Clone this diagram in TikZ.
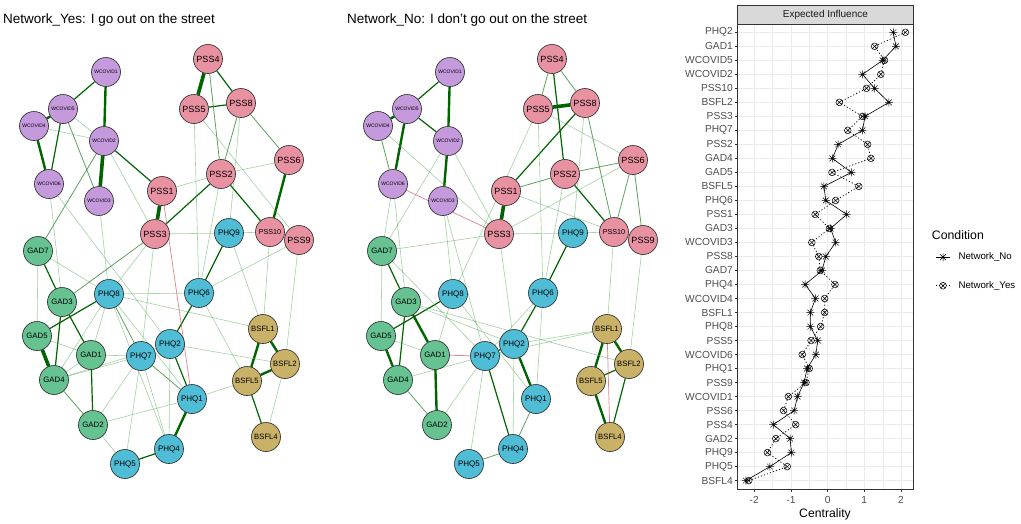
\documentclass[tikz,border=0pt]{standalone}
\usepackage{fontspec}
\setmainfont{Liberation Sans}
\usetikzlibrary{backgrounds}
\definecolor{wcC}{RGB}{196,154,221}
\definecolor{pssC}{RGB}{232,145,161}
\definecolor{phqC}{RGB}{79,189,214}
\definecolor{gadC}{RGB}{102,194,144}
\definecolor{bsfC}{RGB}{201,177,104}
\definecolor{dg}{RGB}{0,100,0}
\definecolor{mg}{RGB}{40,130,40}
\definecolor{lg}{RGB}{90,170,90}
\definecolor{rd}{RGB}{210,90,100}
\definecolor{gridc}{RGB}{235,235,235}
\definecolor{grey20}{RGB}{51,51,51}
\definecolor{grey30}{RGB}{77,77,77}
\definecolor{grey85}{RGB}{217,217,217}
\newcommand\netnodes[2]{%
 \foreach \n/\x/\y/\c/\f in {
  WCOVID1/106/72/wcC/5, WCOVID5/63/109/wcC/5, WCOVID4/34/126/wcC/5, WCOVID2/104/141/wcC/5,
  WCOVID6/49/184/wcC/5, WCOVID3/99/201/wcC/5,
  PSS4/208/59/pssC/9, PSS5/194/109/pssC/9, PSS8/241/103/pssC/9, PSS6/289/160/pssC/9,
  PSS2/221/174/pssC/9, PSS1/162/191/pssC/9, PSS3/155/234/pssC/9, PSS10/270/232/pssC/7.2,
  PSS9/299/240/pssC/9,
  PHQ9/229/233/phqC/8, PHQ8/109/294/phqC/8, PHQ6/199/293/phqC/8, PHQ7/141/356/phqC/8,
  PHQ2/170/344/phqC/8, PHQ1/192/399/phqC/8, PHQ4/169/449/phqC/8, PHQ5/125/464/phqC/8,
  GAD7/38/251/gadC/7.8, GAD3/62/302/gadC/7.8, GAD5/37/336/gadC/7.8, GAD1/91/355/gadC/7.8,
  GAD4/54/380/gadC/7.8, GAD2/93/425/gadC/7.8,
  BSFL1/263/329/bsfC/7.7, BSFL2/285/364/bsfC/7.7, BSFL5/247/381/bsfC/7.7, BSFL4/266/437/bsfC/7.7}{
   \node[nd, fill=\c, font=\fontsize{\f}{\f}\selectfont] (#1\n) at ({\x+#2},\y) {\n};
 }}
\newcommand\netedges[2]{%
 \foreach \s/\a/\b in {#2}{\draw[\s] (#1\a) -- (#1\b);}}
\begin{document}
\begin{tikzpicture}[x=1pt,y=-1pt,
  nd/.style={circle, draw=black!85, line width=0.6pt, minimum size=29pt, inner sep=0pt, text=black},
  eA/.style={dg, line width=3.6pt},
  eB/.style={dg, line width=2.4pt},
  eC/.style={dg, line width=1.2pt},
  eD/.style={mg, line width=0.8pt, opacity=0.75},
  eE/.style={lg, line width=0.6pt, opacity=0.55},
  eR/.style={rd, line width=0.7pt, opacity=0.75},
  gmaj/.style={gridc, line width=0.6pt},
  gmin/.style={gridc, line width=0.3pt},
  ylab/.style={anchor=east, inner sep=0pt, text=grey30, font=\fontsize{10.2}{12}\selectfont},
  noline/.style={black, line width=0.6pt},
  yesline/.style={black, line width=0.7pt, dash pattern=on 1.2pt off 2pt},
  mk/.style={black, line width=0.5pt}]
\useasboundingbox (0,0) rectangle (1021,523);
% titles
\node[anchor=base west, inner sep=0pt, font=\fontsize{13.5}{16}\selectfont] (t1) at (3,23) {Network\_Yes: I go out on the street};
\node[anchor=base west, inner sep=0pt, font=\fontsize{13.5}{16}\selectfont] (t2) at (347,23) {Network\_No: I don't go out on the street};
% networks
\netnodes{L}{0}
\netnodes{R}{344}
\begin{scope}[on background layer]
\netedges{L}{eA/PSS4/PSS5, eA/PSS1/PSS3, eA/WCOVID2/WCOVID3, eA/GAD5/GAD4,
 eB/WCOVID1/WCOVID2, eB/WCOVID5/WCOVID4, eB/WCOVID4/WCOVID6, eB/PSS6/PSS10, eB/PHQ1/PHQ4,
 eB/BSFL1/BSFL5, eB/BSFL1/BSFL2, eB/BSFL5/BSFL2,
 eC/WCOVID1/WCOVID5, eC/WCOVID5/WCOVID6, eC/PSS5/PSS8, eC/PSS4/PSS8, eC/WCOVID2/PSS1,
 eC/PSS2/PSS3, eC/PSS2/PSS10, eC/PHQ9/PHQ6, eC/GAD7/GAD3, eC/GAD3/GAD4, eC/GAD3/GAD1,
 eC/GAD5/PHQ8, eC/GAD1/GAD2, eC/PHQ6/PHQ2, eC/PHQ2/PHQ1, eC/PHQ4/PHQ5, eC/BSFL5/BSFL4,
 eD/PSS8/PSS6, eD/PSS8/PSS2, eD/WCOVID5/WCOVID3, eD/WCOVID2/GAD7, eD/PHQ7/PHQ1, eD/PSS4/PSS2,
 eD/PSS3/GAD3, eD/PHQ8/PHQ7, eD/GAD4/GAD2,
 eE/WCOVID4/WCOVID2, eE/WCOVID5/WCOVID2, eE/WCOVID2/PSS3, eE/WCOVID6/GAD3, eE/WCOVID6/PHQ2,
 eE/WCOVID3/PHQ8, eE/PSS8/PHQ9, eE/PSS5/PHQ6, eE/PSS5/PSS9, eE/PSS2/PSS6, eE/PSS2/PSS1,
 eE/PSS2/PHQ6, eE/PSS3/PHQ9, eE/PHQ9/PSS10, eE/PSS3/PHQ8, eE/PSS3/PHQ7, eE/GAD7/GAD5,
 eE/GAD7/PHQ8, eE/GAD5/GAD1, eE/GAD1/GAD4, eE/GAD1/PHQ7, eE/GAD1/PHQ8, eE/GAD4/PHQ7,
 eE/GAD4/PHQ2, eE/GAD4/PHQ8, eE/PHQ8/PHQ6, eE/PHQ8/PHQ1, eE/PHQ8/BSFL1, eE/PHQ8/PHQ4,
 eE/PHQ2/BSFL2, eE/PHQ2/PHQ4, eE/PHQ7/PHQ5, eE/PHQ7/PHQ4, eE/PHQ1/GAD2, eE/PHQ1/BSFL5,
 eE/PHQ5/GAD2, eE/BSFL2/BSFL4, eE/BSFL2/PSS9, eE/PHQ9/BSFL1, eE/PHQ6/BSFL5, eE/PSS10/BSFL1,
 eE/PSS9/PHQ6, eE/GAD2/PHQ7,
 eR/PSS1/PHQ1}
\netedges{R}{eA/PSS1/PSS3, eA/PSS5/PSS8,
 eB/WCOVID1/WCOVID2, eB/WCOVID2/WCOVID3, eB/WCOVID5/WCOVID4, eB/WCOVID5/WCOVID6, eB/GAD3/GAD1,
 eB/GAD5/GAD4, eB/GAD1/GAD2, eB/PHQ2/PHQ1, eB/BSFL1/BSFL5, eB/BSFL1/BSFL2, eB/BSFL5/BSFL4,
 eC/WCOVID1/WCOVID5, eC/WCOVID5/WCOVID2, eC/PSS4/PSS2, eC/PSS8/PSS1, eC/PSS2/PSS10, eC/PHQ9/PHQ6,
 eC/GAD7/GAD3, eC/GAD3/GAD4, eC/GAD5/PHQ8, eC/PHQ7/PHQ2, eC/PHQ2/PHQ6, eC/BSFL2/BSFL5,
 eC/BSFL2/BSFL4, eC/PHQ7/PHQ4,
 eD/PSS4/PSS5, eD/PSS4/PSS8, eD/PSS2/PSS1, eD/PSS6/PSS2, eD/PSS6/PSS10, eD/PSS6/PSS9,
 eD/WCOVID4/WCOVID6, eD/GAD4/GAD2, eD/PHQ1/PHQ4, eD/PHQ4/PHQ5, eD/PSS8/PSS10,
 eE/WCOVID4/PSS3, eE/WCOVID2/GAD7, eE/WCOVID2/PSS3, eE/WCOVID6/GAD7, eE/WCOVID6/GAD3,
 eE/WCOVID3/PHQ8, eE/WCOVID3/PHQ7, eE/PSS5/PSS6, eE/PSS5/PHQ8, eE/PSS5/PHQ6, eE/PSS8/PHQ9,
 eE/PSS6/PSS3, eE/PSS2/PHQ6, eE/PSS1/PSS10, eE/PSS3/PHQ9, eE/PSS3/GAD7, eE/PHQ9/PSS10,
 eE/GAD7/GAD5, eE/GAD7/PHQ7, eE/GAD3/PHQ2, eE/GAD3/BSFL2, eE/GAD5/GAD1, eE/GAD1/PHQ8,
 eE/GAD4/PHQ7, eE/GAD2/PHQ7, eE/PHQ8/PHQ1, eE/PHQ7/PHQ6, eE/PHQ7/PHQ5, eE/PHQ7/BSFL1,
 eE/PHQ2/PHQ4, eE/PHQ2/BSFL1, eE/BSFL1/PSS10, eE/BSFL2/PSS9, eE/PSS3/PHQ2, eE/PHQ1/PHQ6,
 eR/WCOVID6/PSS3, eR/GAD1/PHQ7, eR/BSFL1/BSFL4}
\end{scope}
% ---------- centrality plot ----------
\foreach \v in {-1.5,-0.5,0.5,1.5} \draw[gmin] ({827.6+36.7*\v},24) -- ({827.6+36.7*\v},489);
\foreach \v in {-2,-1,0,1,2} \draw[gmaj] ({827.6+36.7*\v},24) -- ({827.6+36.7*\v},489);
\foreach \i in {0,...,32} \draw[gmaj] (737.7,{32.3+14.01*\i}) -- (913,{32.3+14.01*\i});
\draw[grey20, line width=0.6pt] (737.7,24) rectangle (913,489);
\draw[grey20, line width=0.6pt, fill=grey85] (737.7,5) rectangle (913,24);
\node[inner sep=0pt, text=black!90, font=\fontsize{10}{12}\selectfont] (strip) at (825.4,14.5) {Expected Influence};
\foreach \nm [count=\i from 0] in {PHQ2,GAD1,WCOVID5,WCOVID2,PSS10,BSFL2,PSS3,PHQ7,PSS2,GAD4,GAD5,BSFL5,PHQ6,PSS1,GAD3,WCOVID3,PSS8,GAD7,PHQ4,WCOVID4,BSFL1,PHQ8,PSS5,WCOVID6,PHQ1,PSS9,WCOVID1,PSS6,PSS4,GAD2,PHQ9,PHQ5,BSFL4}{
  \node[ylab] (yl\i) at (733,{32.3+14.01*\i}) {\nm};
  \draw[grey20, line width=0.6pt] (734.5,{32.3+14.01*\i}) -- (737.7,{32.3+14.01*\i});
}
\foreach \v in {-2,-1,0,1,2}{
  \draw[grey20, line width=0.6pt] ({827.6+36.7*\v},489) -- ({827.6+36.7*\v},492);
  \node[inner sep=0pt, text=grey30, font=\fontsize{10.2}{12}\selectfont] (xl\v) at ({827.6+36.7*\v},499.5) {\v};
}
\node[anchor=base, inner sep=0pt, font=\fontsize{12.2}{14}\selectfont] (xt) at (825,517) {Centrality};
\foreach \a/\b [count=\i from 0] in {1.79/2.12, 1.86/1.28, 1.50/1.55, 0.95/1.45, 1.28/1.06, 1.67/0.32,
  1.02/0.95, 0.95/0.55, 0.29/1.09, 0.13/1.18, 0.65/0.12, -0.10/0.85, -0.05/0.22, 0.52/-0.34,
  0.08/0.05, 0.22/-0.43, -0.05/-0.24, -0.15/-0.20, -0.61/0.20, -0.33/-0.08, -0.47/-0.08,
  -0.47/-0.19, -0.27/-0.45, -0.32/-0.69, -0.56/-0.50, -0.64/-0.59, -0.82/-1.07, -0.91/-1.20,
  -1.48/-0.87, -1.02/-1.41, -0.99/-1.64, -1.57/-1.10, -2.23/-2.15}{
  \coordinate (no\i) at ({827.6+36.7*\a},{32.3+14.01*\i});
  \coordinate (yes\i) at ({827.6+36.7*\b},{32.3+14.01*\i});
}
\draw[noline] (no0) \foreach \i in {1,...,32}{ -- (no\i)};
\draw[yesline] (yes0) \foreach \i in {1,...,32}{ -- (yes\i)};
\foreach \i in {0,...,32}{
  \draw[mk] (no\i) +(-4,0) -- +(4,0) +(0,-4) -- +(0,4) +(-2.9,-2.9) -- +(2.9,2.9) +(-2.9,2.9) -- +(2.9,-2.9);
  \draw[mk] (yes\i) circle[radius=3.4] +(-2.4,-2.4) -- +(2.4,2.4) +(-2.4,2.4) -- +(2.4,-2.4);
}
% legend
\node[anchor=base west, inner sep=0pt, font=\fontsize{12.3}{14}\selectfont] (legt) at (931.7,239) {Condition};
\coordinate (k1) at (943,257.3);
\coordinate (k2) at (943,285.7);
\draw[noline] ([xshift=-7pt]k1) -- ([xshift=7pt]k1);
\draw[mk] (k1) +(-4,0) -- +(4,0) +(0,-4) -- +(0,4) +(-2.9,-2.9) -- +(2.9,2.9) +(-2.9,2.9) -- +(2.9,-2.9);
\draw[yesline] ([xshift=-7pt]k2) -- ([xshift=7pt]k2);
\draw[mk] (k2) circle[radius=3.4] +(-2.4,-2.4) -- +(2.4,2.4) +(-2.4,2.4) -- +(2.4,-2.4);
\node[anchor=west, inner sep=0pt, font=\fontsize{9.7}{12}\selectfont] (leg1) at (958.3,257.3) {Network\_No};
\node[anchor=west, inner sep=0pt, font=\fontsize{9.7}{12}\selectfont] (leg2) at (958.3,285.7) {Network\_Yes};
\end{tikzpicture}
\end{document}
